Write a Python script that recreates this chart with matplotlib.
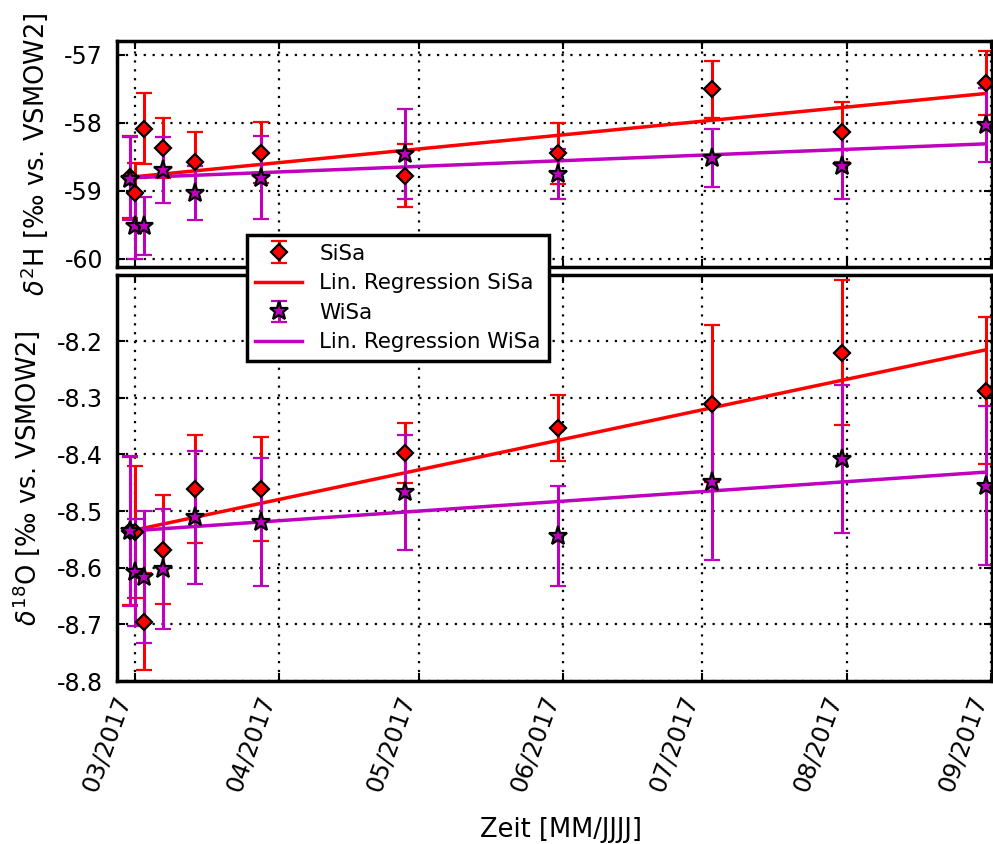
import matplotlib
matplotlib.use('Agg')
import matplotlib.pyplot as plt
import matplotlib.dates as mdates
import pandas as pd

plt.rcParams['axes.unicode_minus'] = False

# sampling dates
dates = pd.to_datetime(['2017-02-28', '2017-03-01', '2017-03-03', '2017-03-07',
                        '2017-03-14', '2017-03-28', '2017-04-28', '2017-05-31',
                        '2017-07-03', '2017-07-31', '2017-08-31'])

# delta 2H
sisa_h = [-58.80, -59.03, -58.09, -58.37, -58.57, -58.44, -58.78, -58.45, -57.51, -58.13, -57.42]
sisa_h_err = [0.60, 0.44, 0.52, 0.44, 0.43, 0.45, 0.46, 0.445, 0.42, 0.44, 0.47]
wisa_h = [-58.82, -59.52, -59.52, -58.69, -59.03, -58.81, -58.46, -58.75, -58.52, -58.63, -58.03]
wisa_h_err = [0.61, 0.48, 0.43, 0.485, 0.40, 0.61, 0.665, 0.365, 0.43, 0.49, 0.54]

# delta 18O
sisa_o = [-8.535, -8.537, -8.695, -8.568, -8.461, -8.461, -8.398, -8.353, -8.310, -8.220, -8.287]
sisa_o_err = [0.13, 0.116, 0.086, 0.096, 0.096, 0.092, 0.053, 0.058, 0.138, 0.128, 0.129]
wisa_o = [-8.535, -8.608, -8.616, -8.603, -8.511, -8.519, -8.467, -8.544, -8.449, -8.408, -8.455]
wisa_o_err = [0.132, 0.094, 0.116, 0.106, 0.118, 0.113, 0.101, 0.088, 0.138, 0.131, 0.141]

# regression lines, values at first and last sampling date
reg_sisa_h = [-58.80, -57.57]
reg_wisa_h = [-58.81, -58.31]
reg_sisa_o = [-8.535, -8.215]
reg_wisa_o = [-8.535, -8.431]

reg_dates = [dates[0], dates[-1]]

fig = plt.figure(figsize=(9.93, 8.44), dpi=100)
ax1 = fig.add_axes([0.1178, 0.6836, 0.8812, 0.2678])
ax2 = fig.add_axes([0.1178, 0.1931, 0.8812, 0.4811], sharex=ax1)

sisa_style = dict(fmt='D', color='r', mfc='r', mec='k', mew=1.6, ms=8,
                  ecolor='r', elinewidth=2.2, capsize=6, capthick=1.6)
wisa_style = dict(fmt='*', color='m', mfc='m', mec='k', mew=1.6, ms=14,
                  ecolor='m', elinewidth=2.2, capsize=6, capthick=1.6)

handles = []
for ax, s, s_err, w, w_err, rs, rw in [
        (ax1, sisa_h, sisa_h_err, wisa_h, wisa_h_err, reg_sisa_h, reg_wisa_h),
        (ax2, sisa_o, sisa_o_err, wisa_o, wisa_o_err, reg_sisa_o, reg_wisa_o)]:
    e1 = ax.errorbar(dates, s, yerr=s_err, **sisa_style)
    l1, = ax.plot(reg_dates, rs, color='r', lw=2.5)
    e2 = ax.errorbar(dates, w, yerr=w_err, **wisa_style)
    l2, = ax.plot(reg_dates, rw, color='m', lw=2.5)
    handles = [e1, l1, e2, l2]

    ax.grid(True, color='k', linestyle=(0, (1, 3)), linewidth=1.6)
    ax.tick_params(direction='in', length=6, width=1.5, top=True, right=True)
    ax.tick_params(axis='y', labelsize=17, pad=10)
    for sp in ax.spines.values():
        sp.set_linewidth(2.5)

ax1.set_ylim(-60.12, -56.80)
ax1.set_yticks([-60, -59, -58, -57])
ax1.tick_params(axis='x', labelbottom=False)

ax2.set_ylim(-8.8, -8.083)
ax2.set_yticks([-8.8, -8.7, -8.6, -8.5, -8.4, -8.3, -8.2])
ax2.set_yticklabels(['%.1f' % v for v in ax2.get_yticks()])

ax2.set_xlim(pd.Timestamp('2017-02-25 03:00'), pd.Timestamp('2017-09-01 06:00'))
ax2.xaxis.set_major_locator(mdates.MonthLocator())
ax2.xaxis.set_major_formatter(mdates.DateFormatter('%m/%Y'))
ax2.tick_params(axis='x', labelsize=17.5, pad=8)
plt.setp(ax2.get_xticklabels(), rotation=70, ha='right')

ax1.set_ylabel(r'$\delta^2$H [‰ vs. VSMOW2]', fontsize=18.5)
ax2.set_ylabel(r'$\delta^{18}$O [‰ vs. VSMOW2]', fontsize=18.5)
ax1.yaxis.set_label_coords(-0.0766, 0.5)
ax2.yaxis.set_label_coords(-0.0857, 0.5)
ax2.set_xlabel('Zeit [MM/JJJJ]', fontsize=18.5)
ax2.xaxis.set_label_coords(0.508, -0.335)

leg = fig.legend(handles, ['SiSa', 'Lin. Regression SiSa', 'WiSa', 'Lin. Regression WiSa'],
                 loc='upper left', bbox_to_anchor=(0.2484, 0.7216), borderaxespad=0,
                 fancybox=False, edgecolor='k', framealpha=1, fontsize=15.4,
                 borderpad=0.4, labelspacing=0.45, handlelength=2.2, handletextpad=0.8)
leg.get_frame().set_linewidth(2.5)

fig.savefig('out.png', dpi=100)
